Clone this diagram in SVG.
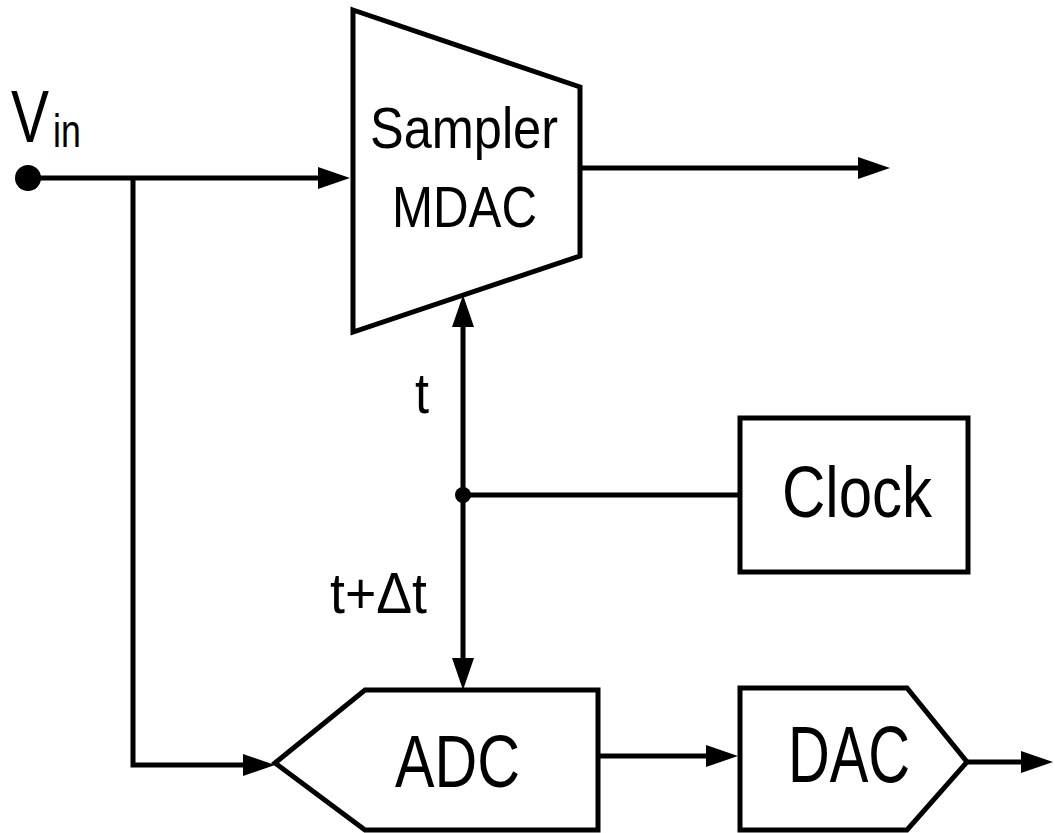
<svg xmlns="http://www.w3.org/2000/svg" width="1055" height="833" viewBox="0 0 1055 833">
<style>
.shape{fill:#fff;stroke:#000;stroke-width:5;stroke-linejoin:miter}
.wire{fill:none;stroke:#000;stroke-width:5}
.lbl{font-family:"Liberation Sans",Arial,sans-serif;fill:#000}
</style>
<defs>
<marker id="arr" viewBox="0 0 32 22" refX="24" refY="11" markerWidth="32" markerHeight="22" markerUnits="userSpaceOnUse" orient="auto">
<path d="M0 0 L32 11 L0 22 Z" fill="#000"/>
</marker>
</defs>
<rect width="1055" height="833" fill="#fff"/>
<g id="connectors">
<path class="wire" d="M28 178 H342" marker-end="url(#arr)"/>
<path class="wire" d="M133 178 V765 H267" marker-end="url(#arr)"/>
<path class="wire" d="M580 168 H882" marker-end="url(#arr)"/>
<path class="wire" d="M740 495 H463"/>
<path class="wire" d="M463 495 V303" marker-end="url(#arr)"/>
<path class="wire" d="M463 495 V682" marker-end="url(#arr)"/>
<path class="wire" d="M598 756 H730" marker-end="url(#arr)"/>
<path class="wire" d="M967 762 H1045" marker-end="url(#arr)"/>
<circle cx="28" cy="178" r="13" fill="#000"/>
<circle cx="463" cy="495" r="8" fill="#000"/>
</g>
<g id="vin">
<text class="lbl" transform="translate(11,142) scale(0.76,1)" font-size="75">V</text>
<text class="lbl" transform="translate(53,147) scale(0.76,1)" font-size="47">in</text>
</g>
<g id="sampler">
<polygon class="shape" points="353,10 580,87 580,256 353,332"/>
<text class="lbl" x="370" y="148" font-size="57" textLength="188" lengthAdjust="spacingAndGlyphs">Sampler</text>
<text class="lbl" x="392" y="227" font-size="57" textLength="145" lengthAdjust="spacingAndGlyphs">MDAC</text>
</g>
<g id="clock">
<rect class="shape" x="740" y="418" width="228" height="154"/>
<text class="lbl" x="782" y="517" font-size="72" textLength="150" lengthAdjust="spacingAndGlyphs">Clock</text>
</g>
<g id="labels">
<text class="lbl" x="415" y="413" font-size="58" textLength="14" lengthAdjust="spacingAndGlyphs">t</text>
<text class="lbl" x="330" y="613" font-size="58" textLength="97" lengthAdjust="spacingAndGlyphs">t+Δt</text>
</g>
<g id="adc">
<polygon class="shape" points="275,763 365,690 598,690 598,830 365,830"/>
<text class="lbl" x="395" y="787" font-size="75" textLength="125" lengthAdjust="spacingAndGlyphs">ADC</text>
</g>
<g id="dac">
<polygon class="shape" points="740,688 907,688 967,762 907,830 740,830"/>
<text class="lbl" x="788" y="782" font-size="80" textLength="122" lengthAdjust="spacingAndGlyphs">DAC</text>
</g>
</svg>
